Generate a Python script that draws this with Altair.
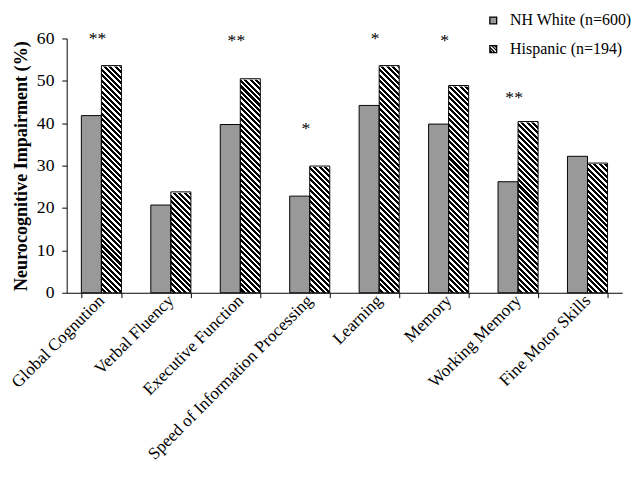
import altair as alt
import pandas as pd

categories = ["Global Cognution", "Verbal Fluency", "Executive Function",
              "Speed of Information Processing", "Learning", "Memory",
              "Working Memory", "Fine Motor Skills"]
groups = ["NH White (n=600)", "Hispanic (n=194)"]
nh_white = [41.8, 20.7, 39.7, 22.8, 44.2, 39.8, 26.2, 32.2]
hispanic = [53.6, 23.8, 50.5, 29.9, 53.6, 48.9, 40.4, 30.6]
stars = ["**", "", "**", "*", "*", "*", "**", ""]
star_level = [59.8, None, 59.3, 38.6, 59.8, 59.4, 45.9, None]
y_top = 60

rows = []
for c, a, b in zip(categories, nh_white, hispanic):
    rows.append({"category": c, "group": groups[0], "value": a})
    rows.append({"category": c, "group": groups[1], "value": b})
df = pd.DataFrame(rows)
df_star = pd.DataFrame({"category": categories, "star": stars, "level": star_level}).dropna()

FONT = "Liberation Serif"
W = 568
H = 260
PAD_IN = 0.423
PAD_OUT = PAD_IN / 2

# hatch gradient (style only): diagonal stripes on a full-height bar
bar_w = W / (len(categories) - PAD_IN + 2 * PAD_OUT) * (1 - PAD_IN) / 2
a = (bar_w + H) * bar_w / (bar_w ** 2 + H ** 2)
period = 5.6
n = int(round((bar_w + H) / period))
stops = []
for i in range(n):
    o0 = i / n
    o1 = (i + 0.55) / n
    o2 = (i + 1) / n
    stops += [{"offset": o0, "color": "black"}, {"offset": o1, "color": "black"},
              {"offset": o1, "color": "white"}, {"offset": o2, "color": "white"}]
hatch = {"gradient": "linear", "x1": 1, "y1": 0, "x2": 1 - a, "y2": a * H / bar_w,
         "stops": stops}

legend_path = ("M-1,-1H1V1H-1Z M-1,-0.45L0.45,1 M-1,0.35L-0.35,1 "
               "M-0.45,-1L1,0.45 M0.35,-1L1,-0.35")

x_enc = alt.X("category:N", sort=categories,
              scale=alt.Scale(paddingInner=PAD_IN, paddingOuter=PAD_OUT),
              axis=alt.Axis(title=None, labelAngle=-45, labelAlign="right",
                            labelBaseline="middle", tickBand="extent", tickSize=5,
                            labelPadding=0, labelFontSize=17.5, labelLimit=400))
xo_enc = alt.XOffset("group:N", scale=alt.Scale(domain=groups, paddingInner=0, paddingOuter=0))
y_scale = alt.Scale(domain=[0, 60], nice=False)

LEG_FS = 16.3
leg = alt.Legend(title=None, orient="none", legendX=428, legendY=-26.5, padding=0,
                 symbolStrokeColor="black", symbolStrokeWidth=1.3,
                 symbolSize=49, labelFontSize=LEG_FS, labelFont=FONT,
                 labelOffset=9, rowPadding=12.2, labelColor="black", labelLimit=300)

base = alt.Chart(df)

legend_layer = base.transform_calculate(mid="datum.value / 2").mark_point(
    filled=True, size=20, opacity=1, strokeWidth=1
).encode(
    x=x_enc,
    xOffset=xo_enc,
    y=alt.Y("mid:Q", scale=y_scale,
            axis=alt.Axis(title="Neurocognitive Impairment (%)", values=[0, 10, 20, 30, 40, 50, 60],
                          tickSize=5, labelPadding=8, titlePadding=6, grid=False,
                          titleFontWeight="bold", titleFontSize=18.5, labelFontSize=18)),
    color=alt.Color("group:N", scale=alt.Scale(domain=groups, range=["#999999", "white"]), legend=leg),
    shape=alt.Shape("group:N", scale=alt.Scale(domain=groups, range=["square", legend_path]), legend=leg),
    stroke=alt.Stroke("group:N", scale=alt.Scale(domain=groups, range=["black", "black"]), legend=leg),
)

hisp = base.transform_filter(alt.datum.group == groups[1]).transform_calculate(top=str(y_top))

hatch_full = hisp.mark_bar(fill=hatch, strokeWidth=0).encode(
    x=alt.X("category:N", sort=categories), xOffset=xo_enc,
    y=alt.Y("top:Q", scale=y_scale), y2=alt.value(H))

cover = hisp.mark_bar(fill="white", stroke="white", strokeWidth=2).encode(
    x=alt.X("category:N", sort=categories), xOffset=xo_enc,
    y=alt.Y("value:Q", scale=y_scale), y2="top:Q")

white_bars = base.transform_filter(alt.datum.group == groups[0]).mark_bar(
    fill="#999999", stroke="black", strokeWidth=1
).encode(x=alt.X("category:N", sort=categories), xOffset=xo_enc, y=alt.Y("value:Q", scale=y_scale))

outline = hisp.mark_bar(fillOpacity=0, stroke="black", strokeWidth=1).encode(
    x=alt.X("category:N", sort=categories), xOffset=xo_enc,
    y=alt.Y("value:Q", scale=y_scale))

star_layer = alt.Chart(df_star).mark_text(
    font=FONT, fontSize=18, color="black", baseline="middle", dx=-4
).encode(x=alt.X("category:N", sort=categories), y=alt.Y("level:Q", scale=y_scale), text="star:N")

chart = alt.layer(legend_layer, hatch_full, cover, white_bars, outline, star_layer).properties(
    width=W, height=H, padding={"left": 0, "top": -1, "right": 0, "bottom": 0}
).configure(font=FONT).configure_view(stroke=None).configure_axis(
    labelFont=FONT, titleFont=FONT, labelColor="black", titleColor="black",
    domainColor="black", tickColor="black", domainWidth=1
).configure_legend(labelFont=FONT, labelFontSize=LEG_FS, labelColor="black", padding=0)

chart.save("out.html", embed_options={"renderer": "svg", "actions": False})
